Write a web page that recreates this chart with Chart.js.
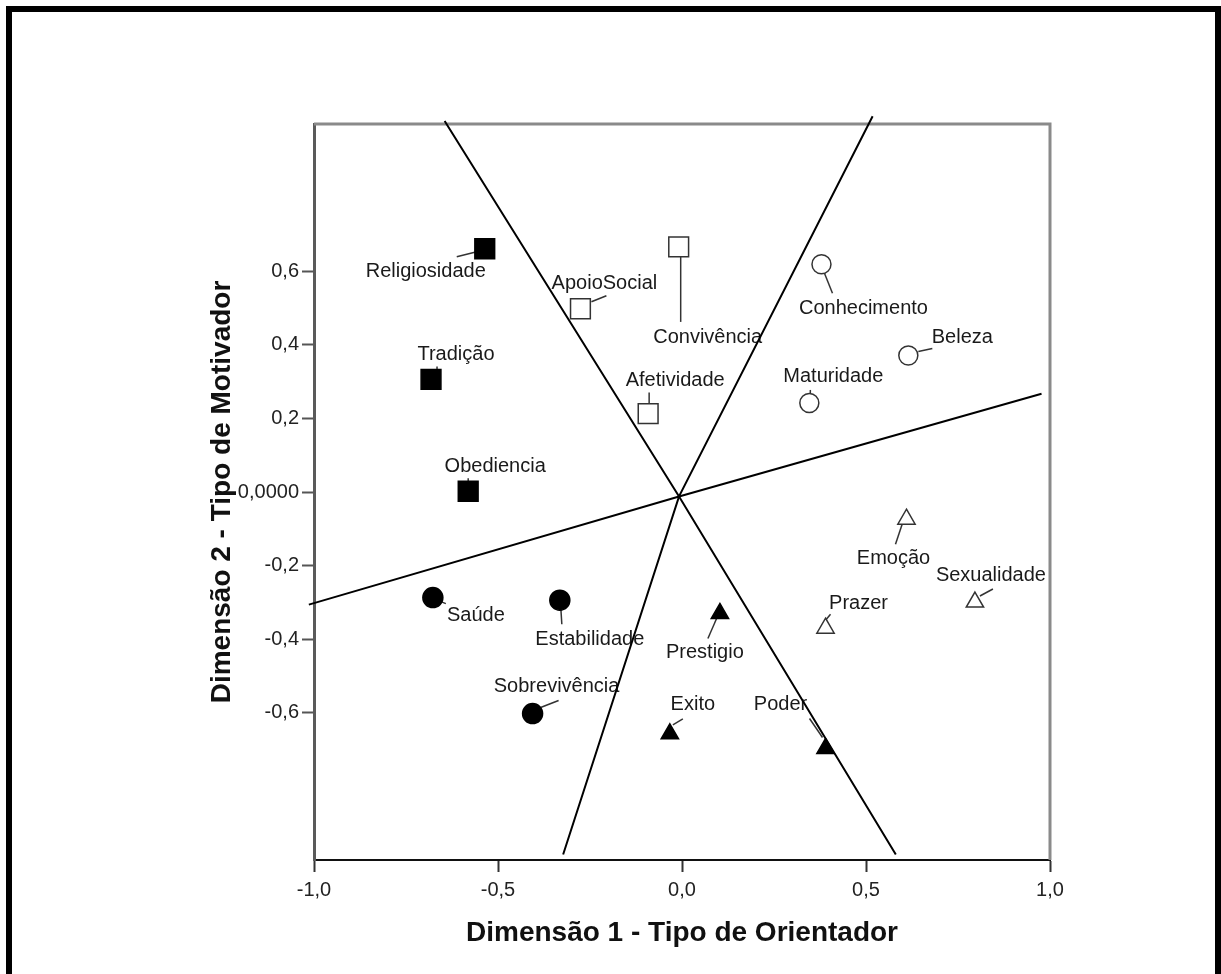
<!DOCTYPE html>
<html>
<head>
<meta charset="utf-8">
<script src="https://cdn.jsdelivr.net/npm/chart.js@4.4.1/dist/chart.umd.min.js"></script>
<style>
    body {margin: 0; background: #fff; overflow: hidden;}
    #wrap {position: relative; width: 1221px; height: 974px;}
    #frame {position: absolute; left: 6px; top: 6px; width: 1215px; height: 980px; box-sizing: border-box;
        border: 6px solid #000; border-bottom: none; pointer-events: none;}
</style>
</head>
<body>
<div id="wrap">
    <canvas id="myChart" width="1221" height="974"></canvas>
    <div id="frame"></div>
</div>
<script>
// valores (Dimensão 1 / Dimensão 2)
const valueNames = ['Religiosidade', 'Tradição', 'Obediencia',
    'ApoioSocial', 'Convivência', 'Afetividade',
    'Conhecimento', 'Beleza', 'Maturidade',
    'Saúde', 'Estabilidade', 'Sobrevivência',
    'Emoção', 'Sexualidade', 'Prazer',
    'Prestigio', 'Exito', 'Poder'];
const dim1 = [-0.536, -0.682, -0.581,
    -0.276, -0.009, -0.092,
    0.379, 0.615, 0.346,
    -0.677, -0.332, -0.406,
    0.610, 0.796, 0.390,
    0.103, -0.033, 0.390];
const dim2 = [0.661, 0.306, 0.002,
    0.498, 0.666, 0.213,
    0.619, 0.371, 0.242,
    -0.287, -0.294, -0.602,
    -0.074, -0.299, -0.370,
    -0.330, -0.657, -0.697];
// grupo de cada valor (índice em groupNames)
const groupOf = [0, 0, 0, 1, 1, 1, 2, 2, 2, 3, 3, 3, 4, 4, 4, 5, 5, 5];
const groupNames = ['Normativo', 'Interativo', 'Suprapessoal', 'Existência', 'Experimentação', 'Realização'];

// linhas divisórias: extremo, centro, extremo (coordenadas das dimensões)
const lineA = [{x: -0.645, y: 1.008}, {x: -0.008, y: -0.012}, {x: 0.581, y: -0.985}];
const lineB = [{x: 0.518, y: 1.021}, {x: -0.008, y: -0.012}, {x: -0.323, y: -0.985}];
const lineC = [{x: -1.014, y: -0.306}, {x: -0.008, y: -0.012}, {x: 0.977, y: 0.267}];

const xTicks = [-1, -0.5, 0, 0.5, 1];
const xTickLabels = ['-1,0', '-0,5', '0,0', '0,5', '1,0'];
const yTicks = [-0.6, -0.4, -0.2, 0, 0.2, 0.4, 0.6];
const yTickLabels = ['-0,6', '-0,4', '-0,2', '0,0000', '0,2', '0,4', '0,6'];

// estilo dos marcadores por grupo
const markerStyles = [
    {pointStyle: 'rect', radius: 14, fill: '#000', line: '#000'},
    {pointStyle: 'rect', radius: 14, fill: '#fff', line: '#333'},
    {pointStyle: 'circle', radius: 9.5, fill: '#fff', line: '#333'},
    {pointStyle: 'circle', radius: 10, fill: '#000', line: '#000'},
    {pointStyle: 'triangle', radius: 10, fill: '#fff', line: '#333'},
    {pointStyle: 'triangle', radius: 10, fill: '#000', line: '#000'}
];
// posição do rótulo e da linha de chamada, em px relativo ao ponto: [dx, dy, x1, y1, x2, y2]
const labelOffsets = [
    [-59, 23, -28, 8, -8, 3], [25, -25, 6, -13, 6, -8], [27, -25, 0, -13, 0, -8],
    [24, -25, 11, -7, 26, -13], [29, 91, 2, 8, 2, 75], [27, -33, 1, -21, 1, -8],
    [42, 44, 3, 9, 11, 29], [54, -18, 10, -4, 24, -7], [24, -26, 1, -13, 1, -9],
    [43, 18, 8, 4, 13, 6], [30, 39, 1, 8, 2, 24], [24, -27, 8, -6, 26, -13],
    [-13, 39, -4, 4, -11, 25], [16, -27, 5, -6, 18, -13], [33, -25, 0, -8, 5, -14],
    [-15, 39, -2, 2, -12, 25], [23, -29, 3, -9, 13, -15], [-45, -44, -16, -30, -3, -11]
];

const FONT = "'Liberation Sans', Arial, sans-serif";

function $each(arr, fn) {
    for (let k = 0; k < arr.length; k++) fn(k, arr[k]);
}

const datasets = [];
groupNames.forEach(function (g, gi) {
    const st = markerStyles[gi];
    const pts = [];
    $each(groupOf, function (k, v) {
        if (v === gi) pts.push({x: dim1[k], y: dim2[k]});
    });
    datasets.push({
        label: g,
        data: pts,
        pointStyle: st.pointStyle,
        pointRadius: st.radius,
        pointBackgroundColor: st.fill,
        pointBorderColor: st.line,
        pointBorderWidth: 1.5,
        showLine: false,
        order: 0
    });
});
[lineA, lineB, lineC].forEach(function (l, i) {
    datasets.push({
        label: 'linha' + (i + 1),
        data: l,
        showLine: true,
        borderColor: '#000',
        borderWidth: 2,
        pointRadius: 0,
        clip: 12,
        order: 1
    });
});

// rótulos dos valores + linhas de chamada
const pointLabels = {
    id: 'pointLabels',
    beforeDatasetsDraw(chart) {
        const ctx = chart.ctx, sx = chart.scales.x, sy = chart.scales.y;
        ctx.save();
        ctx.font = '20px ' + FONT;
        ctx.fillStyle = '#1a1a1a';
        ctx.strokeStyle = '#333';
        ctx.lineWidth = 1.5;
        ctx.textAlign = 'center';
        ctx.textBaseline = 'middle';
        $each(valueNames, function (k, name) {
            const px = sx.getPixelForValue(dim1[k]), py = sy.getPixelForValue(dim2[k]);
            const o = labelOffsets[k];
            ctx.beginPath();
            ctx.moveTo(px + o[2], py + o[3]);
            ctx.lineTo(px + o[4], py + o[5]);
            ctx.stroke();
            ctx.fillText(name, px + o[0], py + o[1]);
        });
        ctx.restore();
    }
};

// moldura superior e direita da área do gráfico
const plotFrame = {
    id: 'plotFrame',
    beforeDatasetsDraw(chart) {
        const a = chart.chartArea, ctx = chart.ctx;
        ctx.save();
        ctx.strokeStyle = '#8a8a8a';
        ctx.lineWidth = 3;
        ctx.beginPath();
        ctx.moveTo(a.left, a.top);
        ctx.lineTo(a.right, a.top);
        ctx.lineTo(a.right, a.bottom);
        ctx.stroke();
        ctx.restore();
    }
};

new Chart(document.getElementById('myChart'), {
    type: 'scatter',
    data: {datasets: datasets},
    plugins: [plotFrame, pointLabels],
    options: {
        responsive: false,
        animation: false,
        devicePixelRatio: 1,
        layout: {padding: {left: 0, top: 124, right: 171, bottom: 0}},
        plugins: {legend: {display: false}, tooltip: {enabled: false}},
        scales: {
            x: {
                type: 'linear', min: -1, max: 1,
                afterBuildTicks: function (s) { s.ticks = xTicks.map(v => ({value: v})); },
                afterFit: function (s) { s.height = 114; },
                ticks: {
                    autoSkip: false, maxRotation: 0, padding: 6, color: '#222',
                    font: {family: FONT, size: 20},
                    callback: function (v, i) { return xTickLabels[i]; }
                },
                grid: {drawOnChartArea: false, tickLength: 12, tickColor: '#333', tickWidth: 2},
                border: {color: '#111', width: 2},
                title: {
                    display: true, text: 'Dimensão 1 - Tipo de Orientador', color: '#111',
                    font: {family: FONT, size: 28, weight: 'bold'},
                    padding: {top: 0, bottom: 24}
                }
            },
            y: {
                type: 'linear', min: -1, max: 1,
                afterBuildTicks: function (s) { s.ticks = yTicks.map(v => ({value: v})); },
                afterFit: function (s) { s.width = 314; },
                ticks: {
                    autoSkip: false, padding: 3, color: '#222',
                    font: {family: FONT, size: 20},
                    callback: function (v, i) { return yTickLabels[i]; }
                },
                grid: {drawOnChartArea: false, tickLength: 12, tickColor: '#555', tickWidth: 2},
                border: {color: '#5a5a5a', width: 3},
                title: {
                    display: true, text: 'Dimensão 2 - Tipo de Motivador', color: '#111',
                    font: {family: FONT, size: 28, weight: 'bold'},
                    padding: {top: 205, bottom: 0}
                }
            }
        }
    }
});
</script>
</body>
</html>
